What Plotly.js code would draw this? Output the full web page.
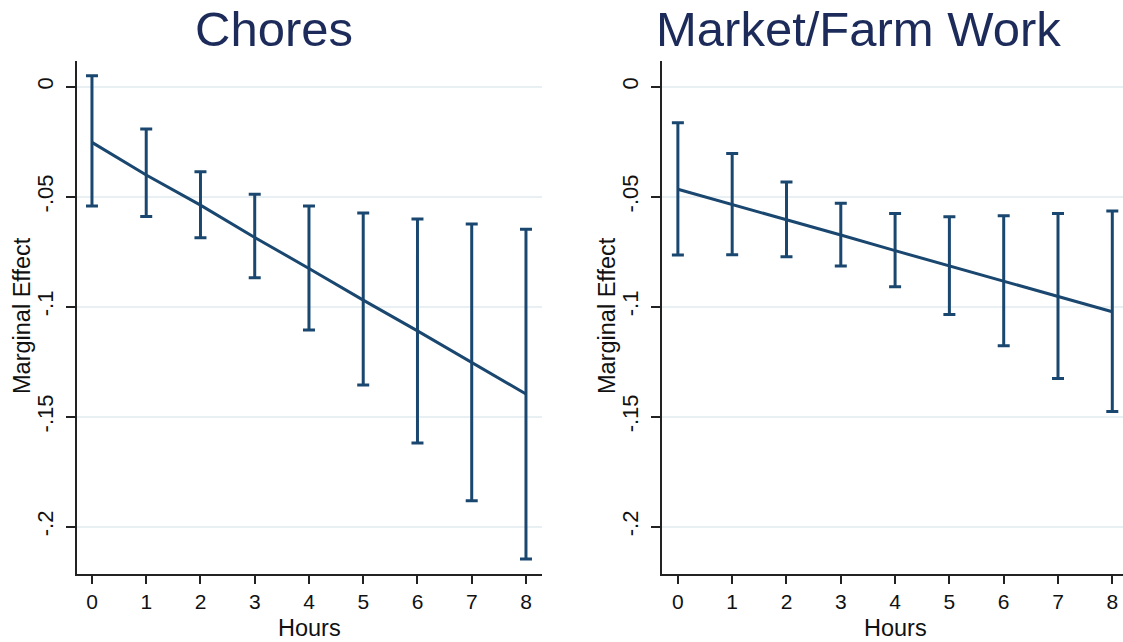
<!DOCTYPE html>
<html>
<head>
<meta charset="utf-8">
<script src="https://cdn.plot.ly/plotly-3.0.1.min.js"></script>
<style>html,body{margin:0;padding:0;background:#fff;}#chart{width:1123px;height:642px;}</style>
</head>
<body>
<div id="chart"></div>
<script>
// Data
const hours = [0, 1, 2, 3, 4, 5, 6, 7, 8];
const choresEffect = [-0.0253, -0.0401, -0.0538, -0.0685, -0.0826, -0.0970, -0.1110, -0.1253, -0.1397];
const choresUpper  = [0.0050, -0.0192, -0.0386, -0.0489, -0.0542, -0.0574, -0.0601, -0.0624, -0.0648];
const choresLower  = [-0.0542, -0.0590, -0.0686, -0.0868, -0.1106, -0.1356, -0.1620, -0.1882, -0.2147];
const marketEffect = [-0.0466, -0.0535, -0.0603, -0.0674, -0.0745, -0.0815, -0.0886, -0.0955, -0.1023];
const marketUpper  = [-0.0164, -0.0303, -0.0433, -0.0530, -0.0576, -0.0591, -0.0586, -0.0576, -0.0565];
const marketLower  = [-0.0765, -0.0764, -0.0773, -0.0815, -0.0909, -0.1035, -0.1177, -0.1326, -0.1476];
const yTickVals = [0, -0.05, -0.1, -0.15, -0.2];
const yTickText = ['0', '-.05', '-.1', '-.15', '-.2'];
const panelTitles = ['Chores', 'Market/Farm Work'];
const xTitle = 'Hours';
const yTitle = 'Marginal Effect';

const W = 1123, H = 642;
const navy = '#1a476f';
const font = 'Liberation Sans, Arial, Helvetica, sans-serif';

function trace(eff, up, lo, xa, ya) {
  return {
    x: hours, y: eff, xaxis: xa, yaxis: ya, type: 'scatter', mode: 'lines',
    line: {color: navy, width: 3},
    error_y: {
      type: 'data', symmetric: false,
      array: eff.map((v, i) => up[i] - v),
      arrayminus: eff.map((v, i) => v - lo[i]),
      color: navy, thickness: 3, width: 6
    },
    showlegend: false, hoverinfo: 'skip'
  };
}

const px = v => v / W;
const py = v => 1 - v / H;

function xaxis(dom, range) {
  return {
    domain: dom, range: range, tickvals: hours, ticktext: hours.map(String),
    showgrid: false, zeroline: false, showline: true, linecolor: '#222', linewidth: 2,
    ticks: 'outside', ticklen: 8, tickwidth: 2, tickcolor: '#222',
    tickfont: {family: font, size: 21, color: '#111'}, automargin: false, fixedrange: true
  };
}
function yaxis(anchor) {
  return {
    domain: [py(574), py(61)], range: [-0.2215, 0.0117], anchor: anchor,
    tickvals: yTickVals, ticktext: yTickText, tickangle: -90,
    showgrid: true, gridcolor: '#e9f0f3', gridwidth: 2, zeroline: false,
    showline: true, linecolor: '#222', linewidth: 2,
    ticks: 'outside', ticklen: 9, tickwidth: 2, tickcolor: '#222', ticklabelstandoff: 4,
    tickfont: {family: font, size: 22, color: '#111'}, automargin: false, fixedrange: true
  };
}

const data = [
  trace(choresEffect, choresUpper, choresLower, 'x', 'y'),
  trace(marketEffect, marketUpper, marketLower, 'x2', 'y2')
];

const ann = (text, x, y, size, color, angle) => ({
  text: text, x: px(x), y: py(y), xref: 'paper', yref: 'paper',
  xanchor: 'center', yanchor: 'middle', showarrow: false, textangle: angle || 0,
  font: {family: font, size: size, color: color}
});

const layout = {
  width: W, height: H,
  margin: {l: 0, r: 0, t: 0, b: 0},
  paper_bgcolor: '#fff', plot_bgcolor: '#fff',
  xaxis: Object.assign(xaxis([px(77), px(541.7)], [-0.276, 8.29]), {anchor: 'y'}),
  yaxis: yaxis('x'),
  xaxis2: Object.assign(xaxis([px(661.7), 1], [-0.298, 8.197]), {anchor: 'y2'}),
  yaxis2: yaxis('x2'),
  annotations: [
    ann(panelTitles[0], 274, 29, 49, '#1c2b5a'),
    ann(panelTitles[1], 858, 29, 49, '#1c2b5a'),
    ann(xTitle, 309, 628, 23.5, '#111'),
    ann(xTitle, 895, 628, 23.5, '#111'),
    ann(yTitle, 22, 316, 23.5, '#111', -90),
    ann(yTitle, 607, 316, 23.5, '#111', -90)
  ]
};

Plotly.newPlot('chart', data, layout, {displayModeBar: false, staticPlot: true});
</script>
</body>
</html>
